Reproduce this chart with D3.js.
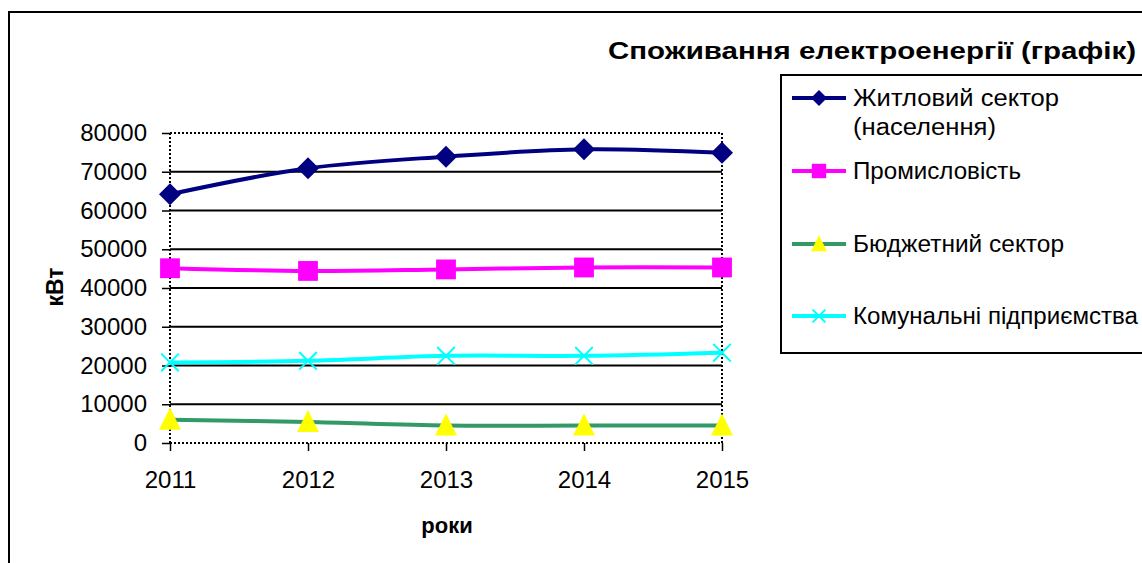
<!DOCTYPE html>
<html>
<head>
<meta charset="utf-8">
<script src="https://cdn.jsdelivr.net/npm/d3@7"></script>
<style>
  body { margin: 0; background: #fff; }
  text { font-family: Arial, "Liberation Sans", sans-serif; fill: #000; }
</style>
</head>
<body>
<div id="chart"></div>
<script>
// Споживання електроенергії по секторах, 2011-2015

const years = ["2011", "2012", "2013", "2014", "2015"];
const seriesNames = ["Житловий сектор (населення)", "Промисловість", "Бюджетний сектор", "Комунальні підприємства"];
const housing   = [64200, 70900, 73900, 75800, 74900];
const industry  = [45100, 44400, 44800, 45300, 45300];
const budget    = [6000, 5400, 4500, 4500, 4500];
const utilities = [20800, 21200, 22500, 22500, 23300];
const yTicks = [0, 10000, 20000, 30000, 40000, 50000, 60000, 70000, 80000];

const width = 1142, height = 563;
const margin = {top: 133, right: 420, bottom: 120, left: 170};

const svg = d3.select("#chart").append("svg")
    .attr("width", width)
    .attr("height", height);

// outer chart border (runs off the picture on the right and bottom)
svg.append("rect")
    .attr("x", 9).attr("y", 12)
    .attr("width", 1200).attr("height", 600)
    .attr("fill", "none").attr("stroke", "#000").attr("stroke-width", 2);

const x = d3.scalePoint()
    .domain(years)
    .range([margin.left, width - margin.right]);

const y = d3.scaleLinear()
    .domain([0, 80000])
    .range([height - margin.bottom, margin.top]);

// gridlines
svg.append("g")
    .selectAll("line")
    .data(yTicks.filter(d => d > 0 && d < 80000))
    .join("line")
    .attr("x1", margin.left).attr("x2", width - margin.right)
    .attr("y1", d => y(d)).attr("y2", d => y(d))
    .attr("stroke", "#000").attr("stroke-width", 1.8);

// dotted plot frame
const frame = svg.append("g")
    .attr("fill", "none").attr("stroke", "#000")
    .attr("stroke-width", 2).attr("stroke-dasharray", "2,2");
frame.append("line").attr("x1", margin.left).attr("x2", width - margin.right)
    .attr("y1", y(80000)).attr("y2", y(80000));
frame.append("line").attr("x1", margin.left).attr("x2", width - margin.right)
    .attr("y1", y(0)).attr("y2", y(0));
frame.append("line").attr("x1", margin.left).attr("x2", margin.left)
    .attr("y1", y(0)).attr("y2", y(80000));
frame.append("line").attr("x1", width - margin.right).attr("x2", width - margin.right)
    .attr("y1", y(0)).attr("y2", y(80000));

// axes
const yAxis = g => g
    .attr("transform", `translate(${margin.left},0)`)
    .call(d3.axisLeft(y).tickValues(yTicks).tickSize(8).tickPadding(15).tickFormat(d => d))
    .call(g => g.select(".domain").remove())
    .call(g => g.selectAll("line").attr("stroke", "#000").attr("stroke-width", 1.5))
    .call(g => g.selectAll("text").attr("font-size", 24).attr("fill", "#000"));

const xAxis = g => g
    .attr("transform", `translate(0,${y(0)})`)
    .call(d3.axisBottom(x).tickSize(8).tickPadding(20))
    .call(g => g.select(".domain").remove())
    .call(g => g.selectAll("line").attr("stroke", "#000").attr("stroke-width", 1.5))
    .call(g => g.selectAll("text").attr("font-size", 24).attr("fill", "#000"));

svg.append("g").call(yAxis);
svg.append("g").call(xAxis);

// axis titles
svg.append("text")
    .attr("x", 447).attr("y", 533)
    .attr("text-anchor", "middle")
    .attr("font-size", 22).attr("font-weight", "bold")
    .text("роки");

svg.append("text")
    .attr("transform", `translate(63,287) rotate(-90)`)
    .attr("text-anchor", "middle")
    .attr("font-size", 23).attr("font-weight", "bold")
    .text("кВт");

// chart title, stretched to the width it has in the source
svg.append("text")
    .attr("x", 608).attr("y", 59)
    .attr("font-size", 24).attr("font-weight", "bold")
    .attr("textLength", 528).attr("lengthAdjust", "spacingAndGlyphs")
    .text("Споживання електроенергії (графік)");

// series
const series = [
    {name: seriesNames[0], values: housing,   line: "#000080", fill: "#000080", shape: "diamond"},
    {name: seriesNames[1], values: industry,  line: "#ff00ff", fill: "#ff00ff", shape: "square"},
    {name: seriesNames[2], values: budget,    line: "#339966", fill: "#ffff00", shape: "triangle"},
    {name: seriesNames[3], values: utilities, line: "#00ffff", fill: "none",    shape: "cross"}
];

const line = d3.line()
    .x((d, i) => x(years[i]))
    .y(d => y(d))
    .curve(d3.curveCatmullRom.alpha(0.5));

function drawMarker(g, s, size) {
    if (s.shape === "diamond") {
        g.append("path").attr("d", `M0,${-size/2}L${size/2},0L0,${size/2}L${-size/2},0Z`)
            .attr("fill", s.fill);
    } else if (s.shape === "square") {
        g.append("rect").attr("x", -size*0.45).attr("y", -size*0.45)
            .attr("width", size*0.9).attr("height", size*0.9)
            .attr("fill", s.fill);
    } else if (s.shape === "triangle") {
        g.append("path").attr("d", `M0,${-size*0.55}L${size/2},${size*0.45}L${-size/2},${size*0.45}Z`)
            .attr("fill", s.fill);
    } else {
        const h = size * 0.4;
        g.append("path").attr("d", `M${-h},${-h}L${h},${h}M${-h},${h}L${h},${-h}`)
            .attr("stroke", s.line).attr("stroke-width", 2).attr("fill", "none");
    }
}

const plot = svg.append("g");
series.forEach(s => {
    plot.append("path")
        .datum(s.values)
        .attr("d", line)
        .attr("fill", "none")
        .attr("stroke", s.line)
        .attr("stroke-width", 4);
});
series.forEach(s => {
    s.values.forEach((v, i) => {
        const g = plot.append("g").attr("transform", `translate(${x(years[i])},${y(v)})`);
        drawMarker(g, s, 22);
    });
});

// legend
svg.append("rect")
    .attr("x", 781).attr("y", 75)
    .attr("width", 400).attr("height", 278)
    .attr("fill", "#fff").attr("stroke", "#000").attr("stroke-width", 2);

const legendY = [98, 171, 244, 316];
// widths of the legend labels as they appear in the source picture
const legendWidths = [[206, 143], [168], [211], [285]];
series.forEach((s, i) => {
    const g = svg.append("g").attr("transform", `translate(0,${legendY[i]})`);
    g.append("line").attr("x1", 792).attr("x2", 846).attr("y1", 0).attr("y2", 0)
        .attr("stroke", s.line).attr("stroke-width", 4);
    const m = g.append("g").attr("transform", "translate(819,0)");
    drawMarker(m, s, 16);
    const words = s.name.split(" (");
    g.append("text").attr("x", 853).attr("y", 8).attr("font-size", 23)
        .attr("textLength", legendWidths[i][0]).attr("lengthAdjust", "spacingAndGlyphs")
        .text(words[0]);
    if (words.length > 1) {
        g.append("text").attr("x", 853).attr("y", 37).attr("font-size", 23)
            .attr("textLength", legendWidths[i][1]).attr("lengthAdjust", "spacingAndGlyphs")
            .text("(" + words[1]);
    }
});
</script>
</body>
</html>
